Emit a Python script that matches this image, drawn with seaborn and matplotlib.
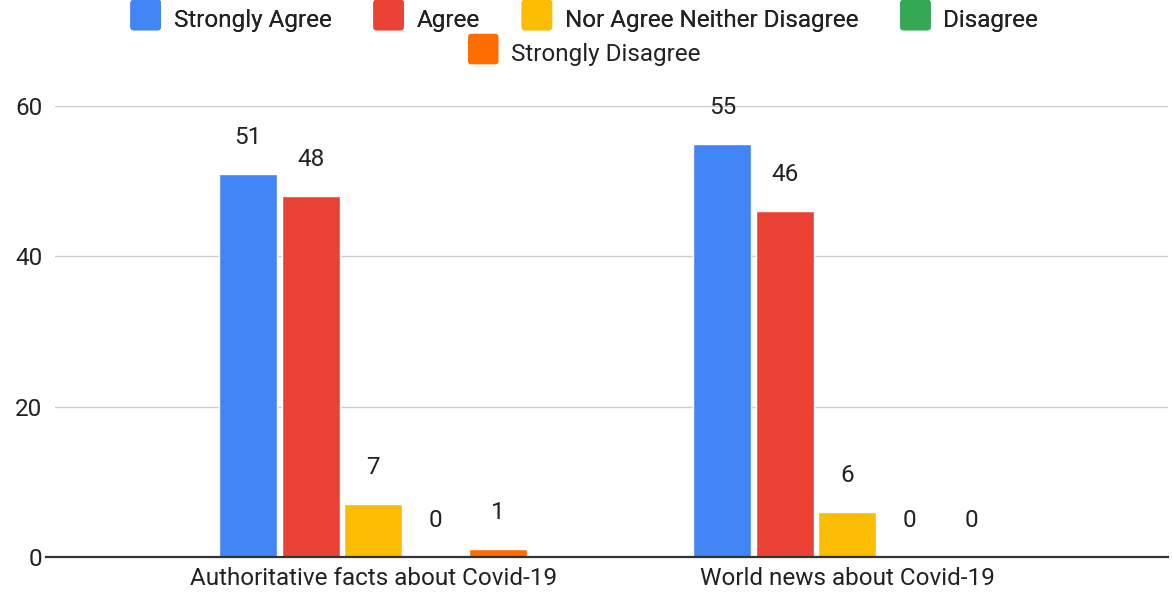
import matplotlib
matplotlib.use("Agg")
import matplotlib.pyplot as plt
from matplotlib.patches import FancyBboxPatch
from matplotlib.legend_handler import HandlerPatch
import seaborn as sns
import pandas as pd

# Survey responses per topic
topics = ["Authoritative facts about Covid-19", "World news about Covid-19"]
responses = ["Strongly Agree", "Agree", "Nor Agree Neither Disagree", "Disagree", "Strongly Disagree"]
strongly_agree = [51, 55]
agree = [48, 46]
neutral = [7, 6]
disagree = [0, 0]
strongly_disagree = [1, 0]
colors = ["#4285F4", "#EA4335", "#FBBC04", "#34A853", "#FF6D01"]

rows = []
for resp, vals in zip(responses, [strongly_agree, agree, neutral, disagree, strongly_disagree]):
    for topic, v in zip(topics, vals):
        rows.append({"topic": topic, "response": resp, "count": v})
df = pd.DataFrame(rows)

sns.set_theme(style="white")
plt.rcParams["font.family"] = ["Roboto", "DejaVu Sans"]
text_color = "#222222"
fs = 17.5

fig = plt.figure(figsize=(11.73, 5.95), dpi=100)
ax = fig.add_axes([55 / 1173, 1 - 557 / 595, 1113 / 1173, (557 - 106) / 595])

sns.barplot(data=df, x="topic", y="count", hue="response", order=topics,
            hue_order=responses, palette=colors, width=0.658, gap=0.07,
            saturation=1, legend=False, ax=ax)

for container in ax.containers:
    ax.bar_label(container, fmt="%d", padding=18, fontsize=fs, color=text_color)

ax.set_ylim(0, 60)
ax.set_xlim(-0.671, 1.677)
ax.set_yticks([0, 20, 40, 60])
ax.yaxis.grid(True, color="#cccccc", linewidth=1)
ax.set_axisbelow(True)
for s in ["top", "right", "left"]:
    ax.spines[s].set_visible(False)
ax.spines["bottom"].set_color("#333333")
ax.spines["bottom"].set_linewidth(1.6)
ax.spines["bottom"].set_bounds(-0.69, 1.677)
ax.spines["bottom"].set_clip_on(False)
ax.tick_params(axis="both", length=0, labelsize=fs, labelcolor=text_color)
ax.tick_params(axis="y", pad=9)
ax.tick_params(axis="x", pad=7)
ax.set_xlabel("")
ax.set_ylabel("")


class RoundHandler(HandlerPatch):
    def create_artists(self, legend, orig_handle, xdescent, ydescent, width, height, fontsize, trans):
        s = 22
        p = FancyBboxPatch((xdescent + (width - s) / 2, ydescent + (height - s) / 2 - 1), s, s,
                           boxstyle="round,pad=0,rounding_size=2.5",
                           facecolor=orig_handle.get_facecolor(), edgecolor="none",
                           transform=trans)
        return [p]


handles = [plt.Rectangle((0, 0), 1, 1, facecolor=c) for c in colors]
hmap = {h: RoundHandler() for h in handles}
common = dict(frameon=False, fontsize=fs, handler_map=hmap, handlelength=0.9,
              handleheight=1.0, handletextpad=0.7, labelcolor=text_color)
leg1 = fig.legend(handles[:4], responses[:4], loc="center", bbox_to_anchor=(0.5, 1 - 20 / 595),
                  ncol=4, columnspacing=1.9, **common)
fig.legend(handles[4:], responses[4:], loc="center", bbox_to_anchor=(0.5, 1 - 54 / 595),
           ncol=1, **common)
fig.add_artist(leg1)

fig.savefig("out.png", dpi=100)
